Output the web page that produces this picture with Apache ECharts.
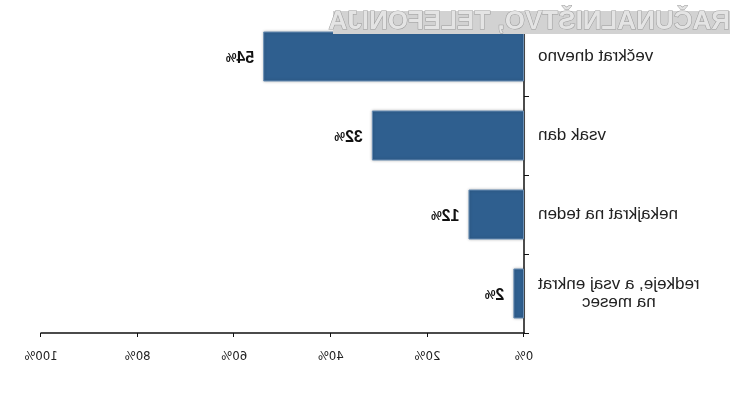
<!DOCTYPE html>
<html>
<head>
<meta charset="utf-8">
<script src="https://cdn.jsdelivr.net/npm/echarts@6/dist/echarts.min.js"></script>
<style>
html,body{margin:0;padding:0;background:#fff;}
#chart{width:743px;height:396px;transform:scaleX(-1);}
</style>
</head>
<body>
<div id="chart"></div>
<script>
const categories = ['večkrat dnevno', 'vsak dan', 'nekajkrat na teden', 'redkeje, a vsaj enkrat\nna mesec'];
const values = [54, 31.5, 11.5, 2.2];
const xMin = 0, xMax = 100, xStep = 20;
const watermark = 'RAČUNALNIŠTVO, TELEFONIJA';

const chart = echarts.init(document.getElementById('chart'));
chart.setOption({
  animation: false,
  backgroundColor: '#ffffff',
  grid: { left: 219, right: 41, top: 17, bottom: 63 },
  xAxis: {
    type: 'value', min: xMin, max: xMax, interval: xStep,
    splitLine: { show: false },
    axisLine: { show: true, lineStyle: { color: '#111', width: 1.5 } },
    axisTick: { show: true, length: 4, lineStyle: { color: '#111' } },
    axisLabel: {
      formatter: '{value}%', margin: 17,
      fontFamily: 'DejaVu Sans Condensed, Liberation Sans Narrow, Liberation Sans, Arial, sans-serif',
      fontSize: 13, color: '#222'
    }
  },
  yAxis: {
    type: 'category', data: categories, inverse: true,
    axisLine: { show: true, lineStyle: { color: '#111', width: 1.5 } },
    axisTick: { show: true, length: 5, inside: false, lineStyle: { color: '#111' } },
    axisLabel: {
      margin: 14, align: 'right',
      fontFamily: 'Liberation Sans, Arial, sans-serif', fontSize: 17, color: '#222',
      lineHeight: 18,
      formatter: function (v) {
        return v.split('\n').map(function (l) { return '{c|' + l + '}'; }).join('\n');
      },
      rich: { c: { align: 'center', fontFamily: 'Liberation Sans, Arial, sans-serif', fontSize: 17, color: '#222', lineHeight: 18 } }
    }
  },
  series: [{
    type: 'bar', data: values, barWidth: 50,
    itemStyle: {
      color: '#2f5f8f',
      borderColor: '#6a8fb5', borderWidth: 1,
      shadowBlur: 3, shadowColor: 'rgba(0,0,0,0.25)'
    },
    label: {
      show: true, position: 'right', distance: 9, offset: [0, 2],
      formatter: function (p) { return '{n|' + Math.round(p.value) + '}{p|%}'; },
      rich: {
        n: { fontFamily: 'Liberation Sans, Arial, sans-serif', fontSize: 16, fontWeight: 'bold', color: '#111' },
        p: { fontFamily: 'Liberation Sans, Arial, sans-serif', fontSize: 12, fontWeight: 'bold', color: '#111' }
      }
    }
  }],
  graphic: [
    { type: 'rect', z: 50, shape: { x: 13, y: 11, width: 397, height: 23 }, style: { fill: '#d2d2d2' } },
    { type: 'text', z: 51, x: 13, y: 22,
      style: { text: watermark, font: 'bold 26px Liberation Sans, Arial, sans-serif',
        fill: '#e4e4e4', stroke: '#9a9a9a', lineWidth: 1, verticalAlign: 'middle', align: 'left' } }
  ]
});
</script>
</body>
</html>
